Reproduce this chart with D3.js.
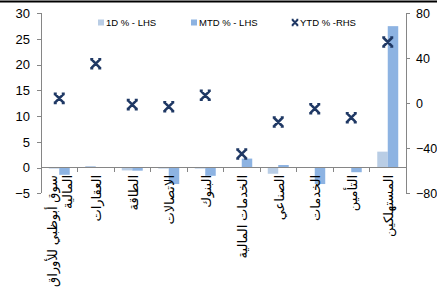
<!doctype html>
<html>
<head>
<meta charset="utf-8">
<style>
  body { margin: 0; background: #fff; }
  svg { font-family: "Liberation Sans", Arial, "DejaVu Sans", sans-serif; }
  .axis path, .axis line { stroke: #868686; shape-rendering: crispEdges; }
  .axis text { fill: #000; font-size: 13px; }
</style>
<script src="https://d3js.org/d3.v7.min.js"></script>
</head>
<body>
<svg width="437" height="307"></svg>
<script>
// sectors (x axis), wrapped labels as in the original
var categories = ["سوق أبوظبي للأوراق المالية", "العقارات", "الطاقة", "الاتصالات", "البنوك",
                  "الخدمات المالية", "الصناعي", "الخدمات", "التأمين", "المستهلكين"];
var labelLines = [["سوق أبوظبي للأوراق", "المالية"], ["العقارات"], ["الطاقة"], ["الاتصالات"], ["البنوك"],
                  ["الخدمات المالية"], ["الصناعي"], ["الخدمات"], ["التأمين"], ["المستهلكين"]];

var oneDay = [-0.2, 0.3, -0.55, -0.2, -0.2, 0, -1.2, 0, 0, 3.1];      // 1D % - LHS
var mtd    = [-1.4, 0.05, -0.6, -3.2, -1.6, 1.75, 0.5, -3.2, -0.9, 27.5]; // MTD % - LHS
var ytd    = [4.4, 35.2, -1.2, -3.0, 7.1, -45, -16.6, -4.8, -12.8, 54.5]; // YTD % -RHS

var leftTicks = [-5, 0, 5, 10, 15, 20, 25, 30];
var rightTicks = [-80, -40, 0, 40, 80];
var seriesNames = ["1D % - LHS", "MTD % - LHS", "YTD % -RHS"];
var colors = ["#B9CDE5", "#8DB3E2", "#1F3864"];

var svg = d3.select("svg");
var plotL = 41, plotR = 406, plotT = 13.3, plotB = 193.3;

// thick rule across the top
svg.append("rect").attr("x", 0).attr("y", 0.5).attr("width", 437).attr("height", 2).attr("fill", "#000");

var x0 = d3.scaleBand().domain(categories).range([plotL, plotR]);
var x1 = d3.scaleBand().domain(["1D", "MTD"]).range([0, x0.bandwidth()]).paddingOuter(0.74);
var yL = d3.scaleLinear().domain([-5, 30]).range([plotB, plotT]);
var yR = d3.scaleLinear().domain([-80, 80]).range([plotB, plotT]);

// left axis
svg.append("g").attr("class", "axis")
   .attr("transform", "translate(" + plotL + ",0)")
   .call(d3.axisLeft(yL).tickValues(leftTicks).tickSize(4).tickSizeOuter(0).tickPadding(7))
   .call(function(g) { g.select(".domain").attr("d", "M0," + plotT + "V" + plotB); });

// right axis
svg.append("g").attr("class", "axis")
   .attr("transform", "translate(" + plotR + ",0)")
   .call(d3.axisRight(yR).tickValues(rightTicks).tickSize(4).tickSizeOuter(0).tickPadding(6))
   .call(function(g) { g.select(".domain").attr("d", "M0," + plotT + "V" + plotB); })
   .call(function(g) { g.selectAll("text").style("font-size", "12.5px"); });

// bars
var groups = svg.append("g").selectAll("g")
   .data(categories)
   .enter().append("g")
   .attr("transform", function(d) { return "translate(" + x0(d) + ",0)"; });

groups.append("rect")
   .attr("x", x1("1D"))
   .attr("width", x1.bandwidth())
   .attr("y", function(d, i) { return yL(Math.max(0, oneDay[i])); })
   .attr("height", function(d, i) { return Math.abs(yL(oneDay[i]) - yL(0)); })
   .attr("fill", colors[0]);

groups.append("rect")
   .attr("x", x1("MTD"))
   .attr("width", x1.bandwidth())
   .attr("y", function(d, i) { return yL(Math.max(0, mtd[i])); })
   .attr("height", function(d, i) { return Math.abs(yL(mtd[i]) - yL(0)); })
   .attr("fill", colors[1]);

// category axis at zero, ticks between categories
var xAxis = svg.append("g").attr("class", "axis");
xAxis.append("line")
   .attr("x1", plotL).attr("x2", plotR)
   .attr("y1", yL(0)).attr("y2", yL(0));
xAxis.selectAll(".tk")
   .data(categories.slice(1))
   .enter().append("line")
   .attr("x1", function(d) { return x0(d); }).attr("x2", function(d) { return x0(d); })
   .attr("y1", yL(0)).attr("y2", yL(0) + 4);

// rotated arabic labels
var lab = svg.append("g").selectAll("text")
   .data(categories)
   .enter().append("text")
   .attr("transform", function(d) {
       return "translate(" + (x0(d) + x0.bandwidth() / 2 + 1) + ",175) rotate(-90)";
   })
   .attr("text-anchor", "end")
   .attr("font-size", "13px")
   .attr("fill", "#000");
lab.each(function(d, i) {
    var lines = labelLines[i];
    var t = d3.select(this);
    lines.forEach(function(s, j) {
        var off = (j - (lines.length - 1) / 2) * 15;
        t.append("tspan").attr("x", 0).attr("y", off).attr("dy", "0.35em").text(s);
    });
});

// YTD markers
var mark = "M-4,-4L4,4M-4,4L4,-4M-5.5,-4.5H-2.5M2.5,-4.5H5.5M-5.5,4.5H-2.5M2.5,4.5H5.5";
svg.append("g").selectAll("path")
   .data(categories)
   .enter().append("path")
   .attr("transform", function(d, i) {
       return "translate(" + (x0(d) + x0.bandwidth() / 2) + "," + yR(ytd[i]) + ")";
   })
   .attr("d", mark)
   .attr("fill", "none")
   .attr("stroke", colors[2])
   .attr("stroke-width", 2.6);

// legend
var legX = [98, 191, 295];
var leg = svg.append("g").attr("font-size", "9.5px");
seriesNames.forEach(function(name, i) {
    if (i < 2) {
        leg.append("rect").attr("x", legX[i]).attr("y", 19.5).attr("width", 6).attr("height", 6).attr("fill", colors[i]);
        leg.append("text").attr("x", legX[i] + 8).attr("y", 26).text(name);
    } else {
        leg.append("path").attr("transform", "translate(" + legX[i] + ",22.5) scale(0.6)")
           .attr("d", mark).attr("fill", "none").attr("stroke", colors[2]).attr("stroke-width", 3.5);
        leg.append("text").attr("x", legX[i] + 5).attr("y", 26).text(name);
    }
});
</script>
</body>
</html>
